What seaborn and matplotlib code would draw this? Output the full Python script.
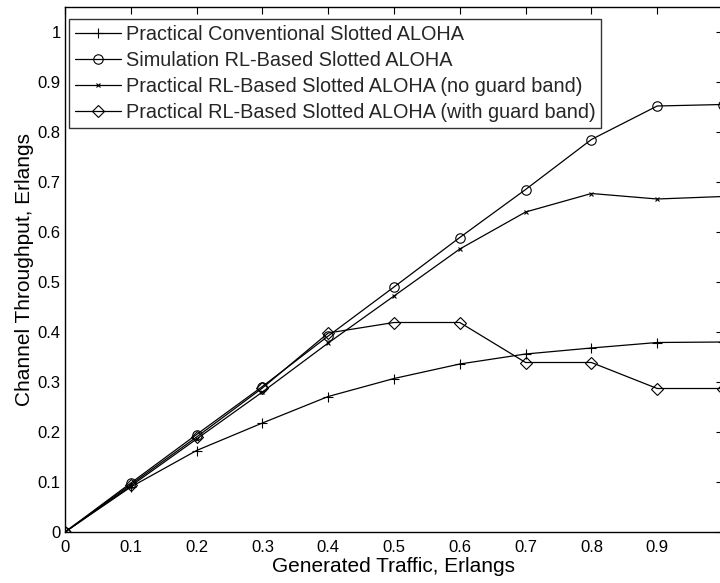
import matplotlib
matplotlib.use("Agg")
import matplotlib.pyplot as plt
import seaborn as sns
import pandas as pd
import numpy as np

traffic = [0, 0.1, 0.2, 0.3, 0.4, 0.5, 0.6, 0.7, 0.8, 0.9, 1.0]
conv = [0, 0.090, 0.163, 0.218, 0.271, 0.307, 0.336, 0.356, 0.368, 0.379, 0.380]
sim_rl = [0, 0.098, 0.195, 0.291, 0.392, 0.490, 0.589, 0.685, 0.785, 0.852, 0.855]
rl_noguard = [0, 0.092, 0.186, 0.280, 0.378, 0.472, 0.566, 0.640, 0.677, 0.666, 0.671]
rl_guard = [0, 0.095, 0.190, 0.288, 0.398, 0.419, 0.419, 0.339, 0.339, 0.287, 0.287]

names = ["Practical Conventional Slotted ALOHA",
         "Simulation RL-Based Slotted ALOHA",
         "Practical RL-Based Slotted ALOHA (no guard band)",
         "Practical RL-Based Slotted ALOHA (with guard band)"]
series = [conv, sim_rl, rl_noguard, rl_guard]

df = pd.concat([pd.DataFrame({"x": traffic, "y": s, "series": n}) for n, s in zip(names, series)],
               ignore_index=True)

sns.set_theme(style="white")
plt.rcParams['font.family'] = ['Liberation Sans', 'DejaVu Sans']

fig = plt.figure(figsize=(7.2, 5.83), dpi=100)
W, H = 720, 583
left, right, top, bottom = 65, 723, 7, 532
ax = fig.add_axes([left / W, 1 - bottom / H, (right - left) / W, (bottom - top) / H])

markers = {names[0]: "+", names[1]: "o", names[2]: "x", names[3]: "D"}
sizes = {names[0]: 7, names[1]: 6.8, names[2]: 3.5, names[3]: 6}
for n in names:
    sub = df[df.series == n]
    sns.lineplot(data=sub, x="x", y="y", ax=ax, color="black", linewidth=0.9,
                 marker=markers[n], markersize=sizes[n], markerfacecolor="none",
                 markeredgecolor="black", markeredgewidth=0.8, label=n)

ax.set_xlim(0, 1.0)
ax.set_ylim(0, 1.05)
ax.set_xticks(np.arange(0, 1.0, 0.1).round(1))
ax.set_xticklabels(["0", "0.1", "0.2", "0.3", "0.4", "0.5", "0.6", "0.7", "0.8", "0.9"])
ax.set_yticks(np.arange(0, 1.01, 0.1).round(1))
ax.set_yticklabels(["0", "0.1", "0.2", "0.3", "0.4", "0.5", "0.6", "0.7", "0.8", "0.9", "1"])
ax.tick_params(direction="in", length=5, width=0.8, top=True, right=True,
               labelsize=12, colors="black")
ax.tick_params(axis="x", pad=6)
ax.tick_params(axis="y", pad=3)
for sp in ax.spines.values():
    sp.set_color("black")
    sp.set_linewidth(1.0)

ax.set_xlabel("Generated Traffic, Erlangs", fontsize=15, color="black", labelpad=1)
ax.set_ylabel("Channel Throughput, Erlangs", fontsize=15, color="black", labelpad=3)

leg = ax.legend(loc="upper left", bbox_to_anchor=(0.0, 0.985), fontsize=14.3, frameon=True,
                fancybox=False, edgecolor="black", handlelength=2.3, handletextpad=0.25,
                labelspacing=0.36, borderpad=0.3, borderaxespad=0.2)
leg.get_frame().set_linewidth(1.0)

fig.savefig("out.png", dpi=100)
